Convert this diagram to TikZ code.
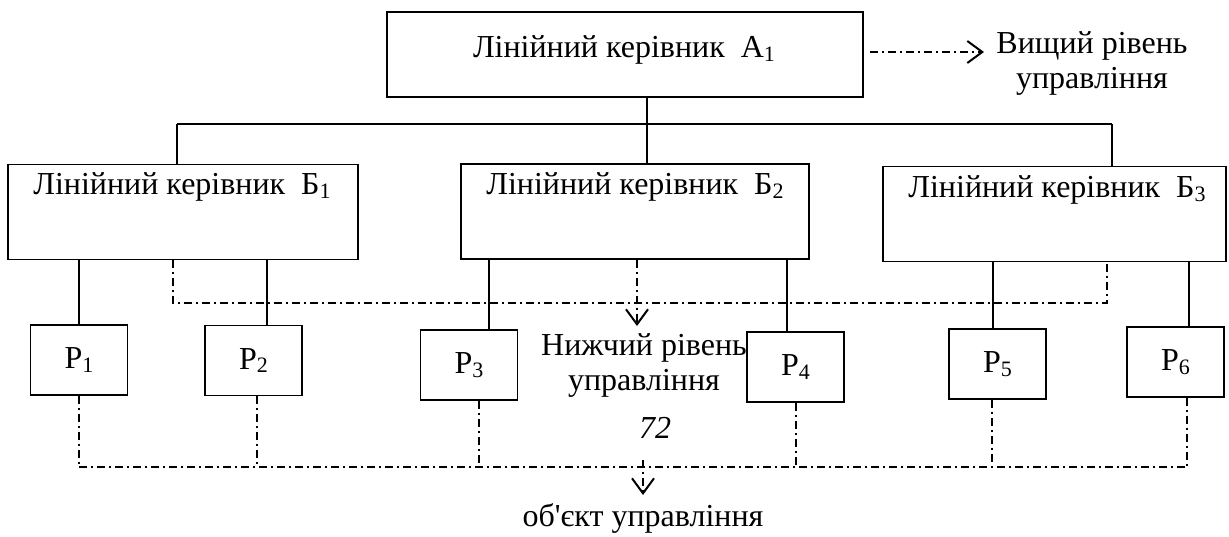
\documentclass[tikz,border=0pt]{standalone}
\usepackage{fontspec}
\setmainfont{Liberation Serif}
\usetikzlibrary{arrows.meta,calc}
% small lowered index digit
\newcommand\ix[1]{\raisebox{-0.12em}{\fontsize{22}{22}\selectfont #1}}

\tikzset{
  box/.style={draw, line width=1.8pt, inner sep=0pt},
  bigbox/.style={box, minimum width=#1, minimum height=95pt},
  pbox/.style={box, minimum width=97pt, minimum height=70pt},
  txt/.style={inner sep=0pt, align=center},
  wire/.style={line width=1.6pt},
  dd/.style={line width=1.4pt, dash pattern=on 8pt off 4pt on 2pt off 4pt},
  vtip/.style={-{Straight Barb[length=15pt, width=22pt, line width=2pt]}}
}

\begin{document}
\begin{tikzpicture}[x=1pt, y=-1pt, font=\rmfamily\fontsize{32}{38}\selectfont]
\useasboundingbox (0,0) rectangle (1229,536);

% top manager
\node[box, minimum width=476pt, minimum height=85pt] (A) at (625,54.5) {};
\node[txt] (tA) at (624,50) {Лінійний керівник\hspace{0.5em}А\ix1};

% higher level
\node[txt] (hi) at (1092,63) {Вищий рівень\\[-3pt]управління};
\coordinate (ra) at (870,52);
\coordinate (rt) at (984,52);
\draw[dd, vtip] (ra) -- (rt);

% middle managers
\node[bigbox=350pt] (B1) at (183,212) {};
\node[bigbox=348pt] (B2) at (635,211.5) {};
\node[bigbox=343pt] (B3) at (1054.5,214) {};
\node[txt] (tB1) at (182,187) {Лінійний керівник\hspace{0.5em}Б\ix1};
\node[txt] (tB2) at (635,187) {Лінійний керівник\hspace{0.5em}Б\ix2};
\node[txt] (tB3) at (1057,190) {Лінійний керівник\hspace{0.5em}Б\ix3};

% bus between levels
\coordinate (j1) at (177,124);
\coordinate (j2) at (647,124);
\coordinate (j3) at (1112,124);
\draw[wire] (A.south -| j2) -- (j2);
\draw[wire] (j1) -- (j3);
\draw[wire] (j1) -- (B1.north -| j1);
\draw[wire] (j2) -- (B2.north -| j2);
\draw[wire] (j3) -- (B3.north -| j3);

% performers
\node[pbox] (P1) at (79,360) {Р\ix1};
\node[pbox] (P2) at (253.5,360.5) {Р\ix2};
\node[pbox] (P3) at (469,365) {Р\ix3};
\node[pbox] (P4) at (795.5,367) {Р\ix4};
\node[pbox] (P5) at (997.5,364) {Р\ix5};
\node[pbox] (P6) at (1175.5,362) {Р\ix6};

% links from middle managers to performers
\coordinate (v1) at (79,0);
\coordinate (v2) at (267,0);
\coordinate (v3) at (489,0);
\coordinate (v4) at (787,0);
\coordinate (v5) at (993,0);
\coordinate (v6) at (1189,0);
\draw[wire] (B1.south -| v1) -- (P1.north -| v1);
\draw[wire] (B1.south -| v2) -- (P2.north -| v2);
\draw[wire] (B2.south -| v3) -- (P3.north -| v3);
\draw[wire] (B2.south -| v4) -- (P4.north -| v4);
\draw[wire] (B3.south -| v5) -- (P5.north -| v5);
\draw[wire] (B3.south -| v6) -- (P6.north -| v6);

% lower level of management
\node[txt] (lo) at (644,365) {Нижчий рівень\\[-3pt]управління};
\node[txt, font=\rmfamily\itshape\fontsize{32}{38}\selectfont] (pg) at (655,428) {72};
\coordinate (d1) at (173,303);
\coordinate (d3) at (1107,303);
\draw[dd] (B1.south -| d1) -- (d1) -- (d3) -- (B3.south -| d3);
\coordinate (m) at (637,0);
\coordinate (mt) at (637,326);
\draw[dd, vtip] (B2.south -| m) -- (mt);

% object of management
\node[txt] (obj) at (643,518) {об\textquotesingle єкт управління};
\coordinate (e1) at (79,467);
\coordinate (e6) at (1187,467);
\coordinate (w2) at (257,0);
\coordinate (w3) at (479,0);
\coordinate (w4) at (796,0);
\coordinate (w5) at (992,0);
\draw[dd] (P1.south) -- (e1);
\draw[dd] (P2.south -| w2) -- (e1 -| w2);
\draw[dd] (P3.south -| w3) -- (e1 -| w3);
\draw[dd] (P4.south -| w4) -- (e1 -| w4);
\draw[dd] (P5.south -| w5) -- (e1 -| w5);
\draw[dd] (P6.south -| e6) -- (e6);
\draw[dd] (e1) -- (e6);
\coordinate (bs) at (643,460);
\coordinate (bt) at (643,495);
\draw[dd, vtip] (bs) -- (bt);
\end{tikzpicture}
\end{document}
